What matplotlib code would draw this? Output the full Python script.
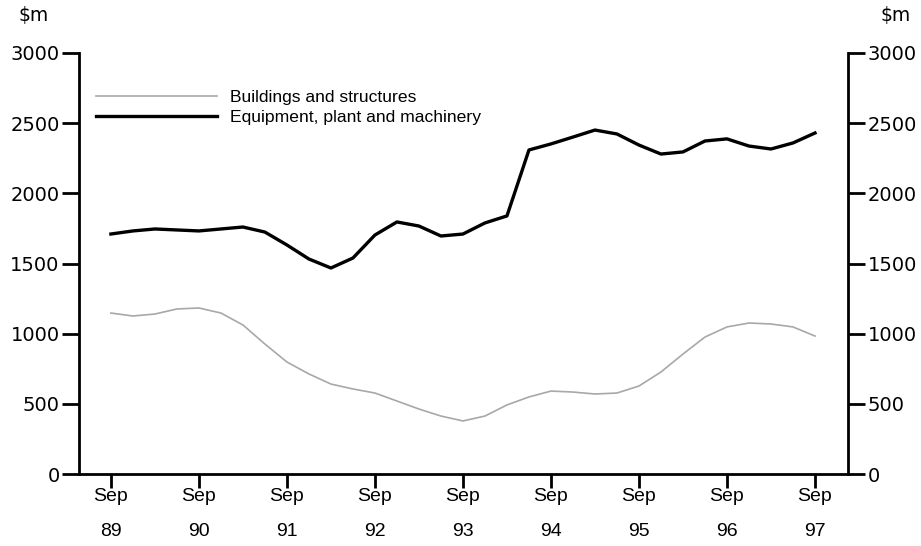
import matplotlib
matplotlib.use("Agg")
import matplotlib.pyplot as plt
import numpy as np

# Quarterly data, Sep 1989 .. Sep 1997
tick_labels = ["Sep\n89", "Sep\n90", "Sep\n91", "Sep\n92", "Sep\n93",
               "Sep\n94", "Sep\n95", "Sep\n96", "Sep\n97"]
buildings = [1147, 1126, 1140, 1176, 1183, 1147, 1062, 926,
             798, 713, 641, 606, 577, 520, 463, 413,
             378, 413, 492, 549, 591, 584, 570, 577,
             627, 727, 855, 976, 1048, 1076, 1069, 1048, 983]
equipment = [1710, 1732, 1746, 1739, 1732, 1746, 1760, 1724,
             1632, 1532, 1468, 1539, 1703, 1796, 1767, 1696,
             1710, 1789, 1839, 2309, 2352, 2401, 2451, 2423,
             2344, 2280, 2295, 2373, 2388, 2337, 2316, 2359, 2430]
series_names = ["Buildings and structures", "Equipment, plant and machinery"]
y_ticks = [0, 500, 1000, 1500, 2000, 2500, 3000]

FONT = ["Liberation Sans Narrow", "Liberation Sans", "DejaVu Sans"]
FONT_W = ["DejaVu Sans"]

fig = plt.figure(figsize=(9.21, 5.46), dpi=100)
ax = fig.add_axes([79/921, 1-474/546, (848-79)/921, (474-53)/546])

x = np.arange(len(equipment))
l1, = ax.plot(x, buildings, color="#a8a8a8", lw=1.2, label=series_names[0])
l2, = ax.plot(x, equipment, color="black", lw=2.4, label=series_names[1])

ax.set_xlim(-1.45, 33.5)
ax.set_ylim(0, 3000)
ax.set_xticks(np.arange(0, len(equipment), 4))
ax.set_xticklabels(tick_labels, fontfamily=FONT, fontsize=14, linespacing=2.4)
ax.set_yticks(y_ticks)
ax.set_yticklabels([str(v) for v in y_ticks], fontfamily=FONT_W, fontsize=14)

ax.spines["top"].set_visible(False)
for s in ["left", "right", "bottom"]:
    ax.spines[s].set_linewidth(2.0)

ax.tick_params(axis="x", direction="out", length=10, width=2, pad=0)
ax.tick_params(axis="y", direction="out", length=12, width=2, pad=2,
               labelleft=True, labelright=True, left=True, right=True)
for lab in ax.get_yticklabels(which="both"):
    lab.set_fontfamily(FONT_W)
ax.yaxis.set_tick_params(which="both", labelsize=14)

fig.text(18/921, 1-16/546, "$m", fontfamily=FONT_W, fontsize=13.5, va="center", ha="left")
fig.text(880/921, 1-16/546, "$m", fontfamily=FONT_W, fontsize=13.5, va="center", ha="left")

leg = ax.legend(handles=[l1, l2], loc="upper left",
                bbox_to_anchor=(10/769, 1-30/421), frameon=False,
                prop={"family": FONT, "size": 12.6},
                handlelength=6.9, handletextpad=0.75, labelspacing=0.25,
                borderaxespad=0)

fig.savefig("out.png", dpi=100, facecolor="white")
